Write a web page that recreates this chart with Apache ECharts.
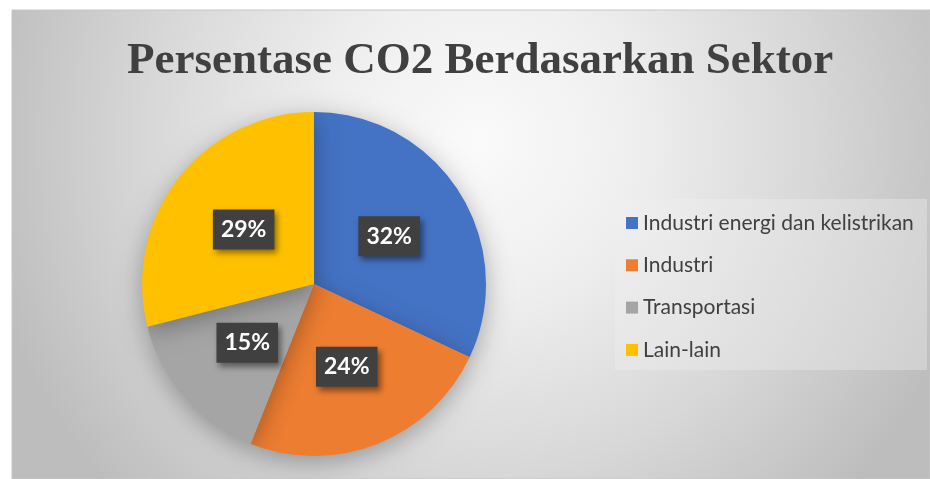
<!DOCTYPE html>
<html>
<head>
<meta charset="utf-8">
<script src="https://cdn.jsdelivr.net/npm/echarts@6/dist/echarts.min.js"></script>
<style>
html,body{margin:0;padding:0;background:#ffffff;}
#chart{width:930px;height:479px;}
</style>
</head>
<body>
<div id="chart"></div>
<script>
const titleText = 'Persentase CO2 Berdasarkan Sektor';
const categories = ['Industri energi dan kelistrikan', 'Industri', 'Transportasi', 'Lain-lain'];
const values = [32, 24, 15, 29];
const colors = ['#4472C4', '#ED7D31', '#A5A5A5', '#FFC000'];

const chart = echarts.init(document.getElementById('chart'), null, {renderer: 'canvas'});
const option = {
  animation: false,
  backgroundColor: '#ffffff',
  graphic: [
    {
      type: 'rect', z: -10, silent: true,
      shape: {x: 12, y: 10, width: 918, height: 469},
      style: {
        fill: {type: 'radial', x: 0.51, y: 0.28, r: 1.08, colorStops: [
          {offset: 0, color: '#fafafa'},
          {offset: 0.3, color: '#efefef'},
          {offset: 0.65, color: '#d8d8d8'},
          {offset: 1, color: '#bdbdbd'}
        ]},
        stroke: '#c6c6c6', lineWidth: 1
      }
    },
    {
      type: 'rect', z: -5, silent: true,
      shape: {x: 615, y: 199, width: 312, height: 171},
      style: {fill: 'rgba(240,240,240,0.35)'}
    }
  ],
  title: {
    text: titleText,
    left: 122,
    top: 34,
    textStyle: {
      fontFamily: 'Liberation Serif',
      fontWeight: 'bold',
      fontSize: 45,
      color: '#404040'
    }
  },
  legend: {
    orient: 'vertical',
    left: 621,
    top: 207,
    icon: 'rect',
    itemWidth: 12,
    itemHeight: 12,
    itemGap: 20.3,
    data: categories,
    textStyle: {
      fontFamily: 'Lato',
      fontSize: 21,
      color: '#404040',
      lineHeight: 22,
      padding: [0, 0, 0, 0]
    }
  },
  series: [{
    type: 'pie',
    center: [314, 284],
    radius: 172,
    startAngle: 90,
    clockwise: true,
    color: colors,
    data: categories.map((c, i) => ({name: c, value: values[i]})),
    itemStyle: {
      shadowBlur: 25,
      shadowColor: 'rgba(0,0,0,0.3)',
      shadowOffsetY: 6
    },
    label: {
      show: true,
      position: 'inside',
      formatter: p => Math.round(p.percent) + '%',
      fontFamily: 'Lato',
      fontWeight: 'bold',
      fontSize: 23,
      color: '#ffffff',
      backgroundColor: '#404040',
      padding: [9, 8, 8, 8],
      shadowBlur: 6,
      shadowOffsetX: 3,
      shadowOffsetY: 4,
      shadowColor: 'rgba(0,0,0,0.45)'
    },
    labelLine: {show: false},
    emphasis: {disabled: true}
  }]
};
chart.setOption(option);
</script>
</body>
</html>
